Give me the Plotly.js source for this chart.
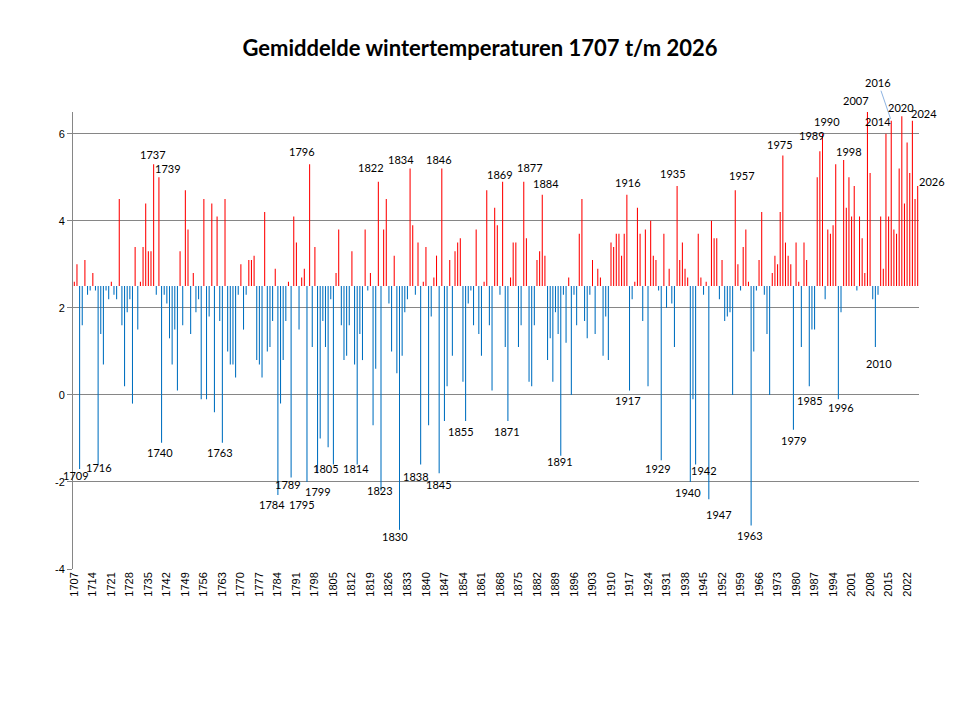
<!DOCTYPE html>
<html>
<head>
<meta charset="utf-8">
<script src="https://cdn.plot.ly/plotly-3.0.1.min.js"></script>
<style>
  html, body { margin: 0; padding: 0; background: #fff; }
  #chart { width: 960px; height: 720px; }
</style>
</head>
<body>
<div id="chart"></div>
<script>
// Winter mean temperatures (°C), one value per winter, starting 1707.
const firstYear = 1707;
const winterTemp = [
  2.6, 3.0, -1.7, 1.6, 3.1, 2.3, 2.4, 2.8, 2.4, -1.6,   // 1707-1716
  1.4, 0.7, 2.4, 2.2, 2.6, 2.3, 2.2, 4.5, 1.6, 0.2,     // 1717-1726
  1.9, 2.2, -0.2, 3.4, 1.5, 2.6, 3.4, 4.4, 3.3, 3.3,    // 1727-1736
  5.3, 2.3, 5.0, -1.1, 2.3, 2.1, 1.3, 0.7, 1.5, 0.1,    // 1737-1746
  3.3, 1.6, 4.7, 3.8, 1.4, 2.8, 1.9, 2.2, -0.1, 4.5,    // 1747-1756
  -0.1, 1.8, 4.4, -0.4, 4.1, 1.7, -1.1, 4.5, 1.0, 0.7,  // 1757-1766
  0.7, 0.4, 2.3, 3.0, 1.5, 2.3, 3.1, 3.1, 3.2, 0.8,     // 1767-1776
  0.7, 0.4, 4.2, 1.0, 1.1, 1.7, 2.9, -2.3, -0.2, 0.8,   // 1777-1786
  1.7, 2.6, -1.9, 4.1, 3.5, 1.5, 2.7, 2.9, -2.0, 5.3,   // 1787-1796
  1.1, 3.4, -1.8, -1.0, 1.7, 1.1, -1.2, 2.2, -1.6, 2.8, // 1797-1806
  3.8, 1.6, 0.8, 0.9, 1.6, 3.3, 0.7, -1.6, 1.4, 0.8,    // 1807-1816
  3.8, 2.4, 2.8, -0.7, 0.6, 4.9, -2.2, 3.8, 4.5, 2.1,   // 1817-1826
  1.0, 3.2, 0.5, -3.1, 0.9, 1.9, 2.2, 5.2, 3.9, 2.3,    // 1827-1836
  3.5, -1.6, 2.6, 3.4, -0.7, 1.8, 2.7, 3.2, -1.8, 5.2,  // 1837-1846
  -0.6, 0.2, 3.1, 0.9, 3.3, 3.5, 3.6, 0.3, -0.6, 2.1,   // 1847-1856
  2.4, 1.6, 3.8, 1.4, 0.9, 2.6, 4.7, 1.6, 0.1, 4.3,     // 1857-1866
  3.9, 2.3, 4.9, 1.1, -0.6, 2.7, 3.5, 3.5, 1.1, 1.6,    // 1867-1876
  4.9, 3.6, 0.3, 0.2, 1.6, 3.1, 3.3, 4.6, 3.2, 0.8,     // 1877-1886
  1.3, 0.3, 1.9, 1.4, -1.4, 2.3, 1.2, 2.7, 0.0, 2.3,    // 1887-1896
  1.6, 3.7, 4.5, 1.7, 1.3, 2.3, 3.1, 1.4, 2.9, 2.7,     // 1897-1906
  0.9, 1.8, 0.8, 3.5, 3.4, 3.7, 3.7, 3.2, 3.7, 4.6,     // 1907-1916
  0.1, 2.2, 2.6, 4.3, 3.7, 1.7, 3.8, 0.2, 4.0, 3.2,     // 1917-1926
  3.1, 2.4, -1.5, 3.7, 2.0, 2.9, 2.1, 1.1, 4.8, 3.1,    // 1927-1936
  3.5, 2.9, 2.7, -2.0, -0.1, -1.6, 3.7, 2.7, 2.3, 2.6,  // 1937-1946
  -2.4, 4.0, 3.6, 3.6, 2.2, 3.1, 1.7, 1.8, 1.9, 0.0,    // 1947-1956
  4.7, 3.0, 2.4, 3.4, 3.8, 2.6, -3.0, 1.0, 2.4, 3.1,    // 1957-1966
  4.2, 2.3, 1.4, 0.0, 2.8, 3.2, 3.0, 4.2, 5.5, 3.5,     // 1967-1976
  3.2, 3.0, -0.8, 3.5, 2.6, 1.1, 3.5, 3.1, 0.2, 1.5,    // 1977-1986
  1.5, 5.0, 5.6, 6.0, 2.2, 3.8, 3.7, 3.9, 5.3, -0.1,    // 1987-1996
  1.9, 5.4, 4.3, 5.0, 4.1, 4.8, 2.4, 4.1, 3.6, 2.8,     // 1997-2006
  6.5, 5.1, 2.2, 1.1, 2.3, 4.1, 2.9, 6.0, 4.1, 6.3,     // 2007-2016
  3.8, 3.7, 5.2, 6.4, 4.4, 5.8, 5.1, 6.3, 4.5, 4.8      // 2017-2026
];
const years = winterTemp.map((_, i) => firstYear + i);

// Bars grow up or down from this reference temperature.
const baselineTemp = 2.5;

// Years that carry a label at the end of their bar.
const labelYears = [
  1709, 1716, 1737, 1739, 1740, 1763, 1784, 1789, 1795, 1796, 1799, 1805,
  1814, 1822, 1823, 1830, 1834, 1838, 1845, 1846, 1855, 1869, 1871, 1877,
  1884, 1891, 1916, 1917, 1929, 1935, 1940, 1942, 1947, 1957, 1963, 1975,
  1979, 1985, 1989, 1990, 1996, 1998, 2007, 2010, 2014, 2016, 2020, 2024, 2026
];

// Category-axis tick labels, every seventh winter.
const tickYears = [];
for (let y = 1707; y <= 2022; y += 7) tickYears.push(y);
const tickLabels = tickYears.map(String);

// Y axis ticks.
const yTicks = [-4, -2, 0, 2, 4, 6];

// ---- layout helpers (pixel nudges for the labels, screen-down positive) ----
const labelNudge = {
  1709: [-4, 7], 1716: [1, 3], 1737: [-1, -10], 1739: [9, -9], 1740: [-2, 10],
  1763: [-2, 10], 1784: [-6, 9], 1789: [-3, 7], 1795: [-5, 23], 1796: [-8, -13],
  1799: [0, 18], 1805: [-7, 4], 1814: [-1, 4], 1822: [-7, -14], 1823: [-1, 0],
  1830: [-5, 7], 1834: [-9, -9], 1838: [-5, 12], 1845: [0, 11], 1846: [-3, -9],
  1855: [-5, 10], 1869: [-3, -7], 1871: [-1, 10], 1877: [6, -14], 1884: [4, -11],
  1891: [-1, 6], 1916: [1, -12], 1917: [-2, 10], 1929: [-3, 8], 1935: [-4, -12],
  1940: [-2, 11], 1942: [8, 6], 1947: [10, 15], 1957: [7, -15], 1963: [-1, 10],
  1975: [-3, -11], 1979: [1, 11], 1985: [1, 14], 1989: [-8, -16], 1990: [4, -12],
  1996: [3, 8], 1998: [5, -8], 2007: [-11, -12], 2010: [4, 16], 2014: [-8, -12],
  2020: [-1, -9], 2024: [12, -7], 2026: [14, -4]
};
// Labels that sit away from their bar with a leader line.
const leaderLabels = { 2016: [-13, -38] };

const RED = '#FF0000';
const BLUE = '#0070C0';
const GRID = '#868686';
const yMin = -4, yMax = 6.5;

const barTrace = {
  type: 'bar',
  x: years,
  y: winterTemp.map(v => v - baselineTemp),
  base: baselineTemp,
  width: 0.4,
  marker: {
    color: winterTemp.map(v => (v >= baselineTemp ? RED : BLUE)),
    line: { width: 0 }
  },
  customdata: winterTemp,
  hovertemplate: '%{x}: %{customdata:.1f} °C<extra></extra>',
  showlegend: false
};

const labelFont = { family: 'Lato, "Open Sans", sans-serif', size: 11, color: '#000' };

const annotations = labelYears.map(year => {
  const v = winterTemp[year - firstYear];
  if (leaderLabels[year]) {
    const [ax, ay] = leaderLabels[year];
    return {
      x: year, y: v, xref: 'x', yref: 'y',
      text: String(year), font: labelFont,
      showarrow: true, arrowhead: 0, arrowwidth: 1, arrowcolor: '#8DB3E2',
      ax: ax, ay: ay, standoff: 2, startstandoff: 0
    };
  }
  const [dx, dy] = labelNudge[year] || [0, v >= baselineTemp ? -10 : 10];
  return {
    x: year, y: v, xref: 'x', yref: 'y',
    text: String(year), font: labelFont,
    showarrow: false, xanchor: 'center', yanchor: 'middle',
    xshift: dx, yshift: -dy
  };
});

const layout = {
  width: 960,
  height: 720,
  autosize: false,
  margin: { l: 73, r: 41, t: 112, b: 151, pad: 0 },
  paper_bgcolor: '#ffffff',
  plot_bgcolor: '#ffffff',
  title: {
    text: '<b>Gemiddelde wintertemperaturen 1707 t/m 2026</b>',
    font: { family: 'Lato, "Open Sans", sans-serif', size: 22, color: '#000' },
    x: 0.5, xanchor: 'center',
    y: 1 - 48 / 720, yanchor: 'middle'
  },
  // a non-zero gap keeps the thin bars at their true sub-pixel width
  bargap: 0.5,
  showlegend: false,
  xaxis: {
    range: [firstYear - 0.5, firstYear + winterTemp.length - 0.5],
    tickmode: 'array',
    tickvals: tickYears,
    ticktext: tickLabels,
    tickangle: -90,
    tickfont: { family: '"Liberation Sans", Arial, sans-serif', size: 11, color: '#000' },
    ticks: '',
    showgrid: false,
    showline: false,
    zeroline: false,
    fixedrange: true
  },
  // Category axis drawn at the baseline temperature: line plus a tick per winter.
  xaxis2: {
    overlaying: 'x',
    anchor: 'free',
    position: (baselineTemp - yMin) / (yMax - yMin),
    side: 'bottom',
    range: [firstYear - 0.5, firstYear + winterTemp.length - 0.5],
    tickmode: 'linear',
    tick0: firstYear - 0.5,
    dtick: 1,
    ticks: 'outside',
    ticklen: 6,
    tickwidth: 1,
    tickcolor: GRID,
    showticklabels: false,
    showline: true,
    linecolor: GRID,
    linewidth: 1,
    showgrid: false,
    zeroline: false,
    fixedrange: true
  },
  yaxis: {
    range: [yMin, yMax],
    tickmode: 'array',
    tickvals: yTicks,
    ticktext: yTicks.map(String),
    tickfont: { family: '"Liberation Sans", Arial, sans-serif', size: 11, color: '#000' },
    ticks: 'outside',
    ticklen: 5,
    tickcolor: GRID,
    showgrid: true,
    gridcolor: GRID,
    gridwidth: 1,
    showline: true,
    linecolor: GRID,
    linewidth: 1,
    zeroline: false,
    fixedrange: true
  },
  annotations: annotations
};

Plotly.newPlot('chart', [barTrace], layout, { displayModeBar: false, staticPlot: true });
</script>
</body>
</html>
